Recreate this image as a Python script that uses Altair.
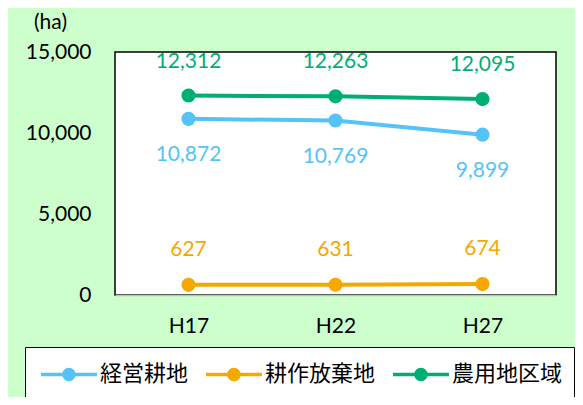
import altair as alt
import pandas as pd

years = ["H17", "H22", "H27"]
series_names = ["経営耕地", "耕作放棄地", "農用地区域"]
keiei = [10872, 10769, 9899]
housou = [627, 631, 674]
nouyou = [12312, 12263, 12095]
colors = ["#55C3F8", "#F4A800", "#00AE74"]
y_ticks = [0, 5000, 10000, 15000]

rows = []
for name, vals in zip(series_names, [keiei, housou, nouyou]):
    for yr, v in zip(years, vals):
        rows.append({"year": yr, "series": name, "value": v})
df = pd.DataFrame(rows)

FONT = "Lato"
JFONT = "Noto Sans CJK JP"

# legend symbol: line with a filled circle (concentric rings), asymmetric
cx = 1.21
circ = ""
for r in [0.36, 0.25, 0.14, 0.05]:
    circ += f"M{cx - r:.3f},0A{r},{r} 0 1 0 {cx + r:.3f},0A{r},{r} 0 1 0 {cx - r:.3f},0"
sym_path = "M-0.79,0L3.21,0" + circ

x = alt.X("year:N", sort=years, scale=alt.Scale(type="point", padding=0.5),
          axis=alt.Axis(title=None, labelAngle=0, labelFont=FONT, labelFontSize=21,
                        labelColor="black", labelPadding=20, ticks=False,
                        domainColor="#BFBFBF", domainWidth=1.5))
y = alt.Y("value:Q", scale=alt.Scale(domain=[0, 15000], nice=False),
          axis=alt.Axis(title="(ha)", titleAngle=0, titleX=-65, titleY=-30,
                        titleAlign="center", titleBaseline="middle", titleFont=FONT,
                        titleFontSize=21, titleFontWeight="normal", titleColor="black",
                        values=y_ticks, format=",.0f", labelFont=FONT, labelFontSize=21,
                        labelColor="black", labelPadding=24, ticks=False, domain=False,
                        grid=False))
color = alt.Color("series:N", scale=alt.Scale(domain=series_names, range=colors),
                  legend=alt.Legend(title=None, orient="none", legendX=-90, legendY=295,
                                    direction="horizontal", strokeColor="black",
                                    fillColor="white", padding=11,
                                    labelFont=JFONT, labelFontSize=22, labelColor="black",
                                    symbolType=sym_path, symbolSize=784,
                                    symbolStrokeWidth=3.5, columnPadding=9,
                                    labelOffset=32))

base = alt.Chart(df).encode(x=x, y=y, color=color)
lines = base.mark_line(strokeWidth=4, point=alt.OverlayMarkDef(size=200, filled=True, opacity=1))

def labels(name, dy, col):
    return alt.Chart(df).transform_filter(alt.datum.series == name).mark_text(
        dy=dy, font=FONT, fontSize=21, color=col
    ).encode(x=alt.X("year:N", sort=years), y="value:Q",
             text=alt.Text("value:Q", format=",.0f"))

chart = alt.layer(
    lines,
    labels("農用地区域", -34, colors[2]),
    labels("経営耕地", 36, colors[0]),
    labels("耕作放棄地", -35, colors[1]),
).properties(
    width=441, height=243,
    autosize=alt.AutoSizeParams(type="none"),
    padding={"left": 107, "top": 44, "right": 19, "bottom": 102},
    background="#CCFFCC",
).configure_view(stroke="black", strokeWidth=1.5, fill="white")

chart.save("out.html", embed_options={"renderer": "svg", "actions": False})
